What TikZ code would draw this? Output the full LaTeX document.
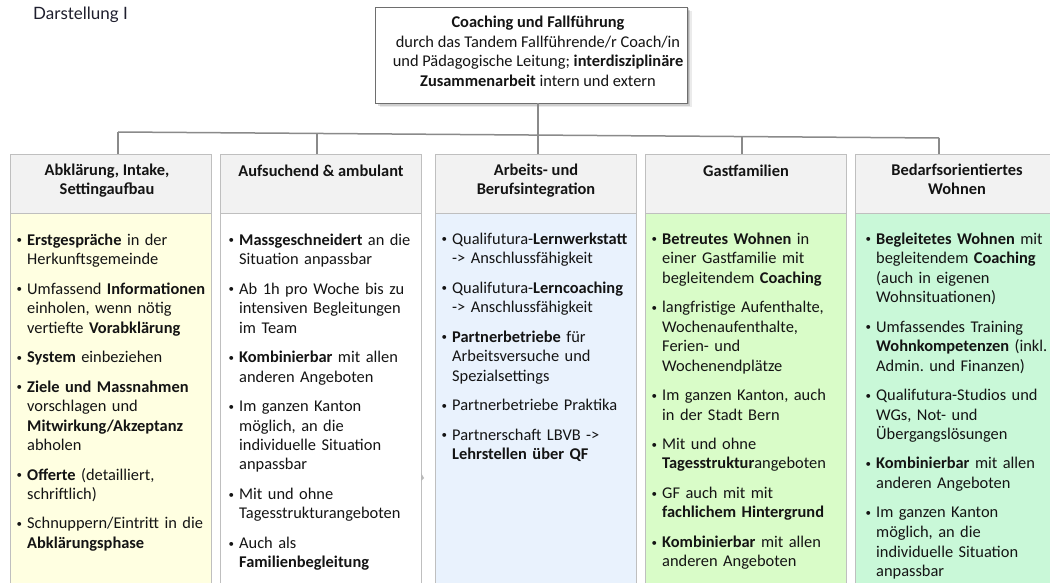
\documentclass[tikz,border=0pt]{standalone}
\usepackage{fontspec}
\setmainfont{Carlito}
\newfontfamily\captionfont{Lato}
\usetikzlibrary{calc}
\frenchspacing

\definecolor{ink}{HTML}{141414}
\definecolor{capink}{HTML}{1F1F2E}
\definecolor{hdrfill}{HTML}{F2F2F2}
\definecolor{boxline}{HTML}{BFBFBF}
\definecolor{topline}{HTML}{6E6E6E}
\definecolor{linkgray}{HTML}{8A8A8A}
\definecolor{fillA}{HTML}{FFFFE1}
\definecolor{fillB}{HTML}{FFFFFF}
\definecolor{fillC}{HTML}{E9F2FD}
\definecolor{fillD}{HTML}{D9FCC8}
\definecolor{fillE}{HTML}{C9F8D8}

% bullet list helpers
\newcommand\bpt{\noindent\llap{\raisebox{1.5pt}{\fontsize{11}{11}\selectfont\textbullet}\hspace{5pt}}}
\newcommand\nextpt{\par\vspace{10pt}\bpt}

\tikzset{
  colhead/.style={draw=boxline, fill=hdrfill, line width=0.8pt,
    minimum width=201pt, minimum height=59pt, inner sep=0pt, anchor=north},
  colbody/.style={draw=boxline, line width=0.8pt,
    minimum width=201pt, minimum height=420pt, inner sep=0pt, anchor=north},
  % multi-line centred texts sit on the baseline of their last line
  headtext/.style={font=\bfseries\fontsize{16.4}{19.6}\selectfont, align=center,
    inner sep=0pt, anchor=base, text=ink},
  bodytext/.style={font=\fontsize{16.4}{19.5}\selectfont, text width=240pt,
    inner sep=0pt, anchor=base west, align=left, text=ink},
  link/.style={draw=linkgray, line width=1.5pt},
}

\begin{document}
\begin{tikzpicture}[x=1pt,y=-1pt]
\useasboundingbox (0,0) rectangle (1050,583);
\clip (0,0) rectangle (1050,583);
\fill[white] (0,0) rectangle (1050,583);

% caption
\node[anchor=base west, inner sep=0pt, font=\captionfont\fontsize{17}{20}\selectfont, text=capink]
  (caption) at (33,20) {Darstellung I};

% top box with soft shadow
\foreach \o/\a in {1.5/0.16,3/0.12,4.5/0.08}
  \fill[black, opacity=\a] (375+\o,7+\o) rectangle (687+\o,103+\o);
\node[draw=topline, fill=white, line width=0.9pt, minimum width=312pt,
  minimum height=96pt, inner sep=0pt] (top) at (531,55) {};
\node[anchor=base, align=center, inner sep=0pt, text=ink,
  font=\fontsize{16.4}{19.7}\selectfont] (toptext) at (538,86.5)
  {\textbf{Coaching und Fallführung}\\
   durch das Tandem Fallführende/r Coach/in\\
   und Pädagogische Leitung; \textbf{interdisziplinäre}\\
   \textbf{Zusammenarbeit} intern und extern};

% column headers
\node[colhead] (h1) at (111,154) {};
\node[colhead] (h2) at (320.5,154) {};
\node[colhead] (h3) at (536,154) {};
\node[colhead] (h4) at (746,154) {};
\node[colhead] (h5) at (955.5,154) {};

% column bodies
\node[colbody, fill=fillA] (b1) at (111,213) {};
\node[colbody, fill=fillB] (b2) at (320.5,213) {};
\node[colbody, fill=fillC] (b3) at (536,213) {};
\node[colbody, fill=fillD] (b4) at (746,213) {};
\node[colbody, fill=fillE] (b5) at (955.5,213) {};

% header texts
\node[headtext] (ht1) at (107,195) {Abklärung, Intake,\\Settingaufbau};
\node[headtext] (ht2) at (321,177) {Aufsuchend \& ambulant};
\node[headtext] (ht3) at (536,195) {Arbeits- und\\Berufsintegration};
\node[headtext] (ht4) at (746,176) {Gastfamilien};
\node[headtext] (ht5) at (957,195) {Bedarfsorientiertes\\Wohnen};

% connectors
\coordinate (j1) at (118,132);
\coordinate (j2) at (317,133.5);
\coordinate (j3) at (538,135);
\coordinate (j4) at (742,136.5);
\coordinate (j5) at (939,138);
\draw[link] (j3 |- top.south) -- (j3);
\draw[link] (j1) -- (j5);
\draw[link] (j1) -- (j1 |- h1.north);
\draw[link] (j2) -- (j2 |- h2.north);
\draw[link] (j3) -- (j3 |- h3.north);
\draw[link] (j4) -- (j4 |- h4.north);
\draw[link] (j5) -- (j5 |- h5.north);

% column contents
\node[bodytext] (t1) at (27,245) {%
\bpt\textbf{Erstgespräche} in der\\Herkunftsgemeinde
\nextpt Umfassend \textbf{Informationen}\\einholen, wenn nötig\\vertiefte \textbf{Vorabklärung}
\nextpt\textbf{System} einbeziehen
\nextpt\textbf{Ziele und Massnahmen}\\vorschlagen und\\\textbf{Mitwirkung/Akzeptanz}\\abholen
\nextpt\textbf{Offerte} (detailliert,\\schriftlich)
\nextpt Schnuppern/Eintritt in die\\\textbf{Abklärungsphase}};

\node[bodytext] (t2) at (239,245) {%
\bpt\textbf{Massgeschneidert} an die\\Situation anpassbar
\nextpt Ab 1h pro Woche bis zu\\intensiven Begleitungen\\im Team
\nextpt\textbf{Kombinierbar} mit allen\\anderen Angeboten
\nextpt Im ganzen Kanton\\möglich, an die\\individuelle Situation\\anpassbar
\nextpt Mit und ohne\\Tagesstrukturangeboten
\nextpt Auch als\\\textbf{Familienbegleitung}};

\node[bodytext] (t3) at (452,244) {%
\bpt Qualifutura-\textbf{Lernwerkstatt}\\-> Anschlussfähigkeit
\nextpt Qualifutura-\textbf{Lerncoaching}\\-> Anschlussfähigkeit
\nextpt\textbf{Partnerbetriebe} für\\Arbeitsversuche und\\Spezialsettings
\nextpt Partnerbetriebe Praktika
\nextpt Partnerschaft LBVB ->\\\textbf{Lehrstellen über QF}};

\node[bodytext] (t4) at (662,244) {%
\bpt\textbf{Betreutes Wohnen} in\\einer Gastfamilie mit\\begleitendem \textbf{Coaching}
\nextpt langfristige Aufenthalte,\\Wochenaufenthalte,\\Ferien- und\\Wochenendplätze
\nextpt Im ganzen Kanton, auch\\in der Stadt Bern
\nextpt Mit und ohne\\\textbf{Tagesstruktur}angeboten
\nextpt GF auch mit mit\\\textbf{fachlichem Hintergrund}
\nextpt\textbf{Kombinierbar} mit allen\\anderen Angeboten};

\node[bodytext] (t5) at (876,244) {%
\bpt\textbf{Begleitetes Wohnen} mit\\begleitendem \textbf{Coaching}\\(auch in eigenen\\Wohnsituationen)
\nextpt Umfassendes Training\\\textbf{Wohnkompetenzen} (inkl.\\Admin. und Finanzen)
\nextpt Qualifutura-Studios und\\WGs, Not- und\\Übergangslösungen
\nextpt\textbf{Kombinierbar} mit allen\\anderen Angeboten
\nextpt Im ganzen Kanton\\möglich, an die\\individuelle Situation\\anpassbar};

% small grey mark at the edge of the second column
\fill[gray!55] (421,473) -- (424,478) -- (421,481) -- cycle;
\end{tikzpicture}
\end{document}
